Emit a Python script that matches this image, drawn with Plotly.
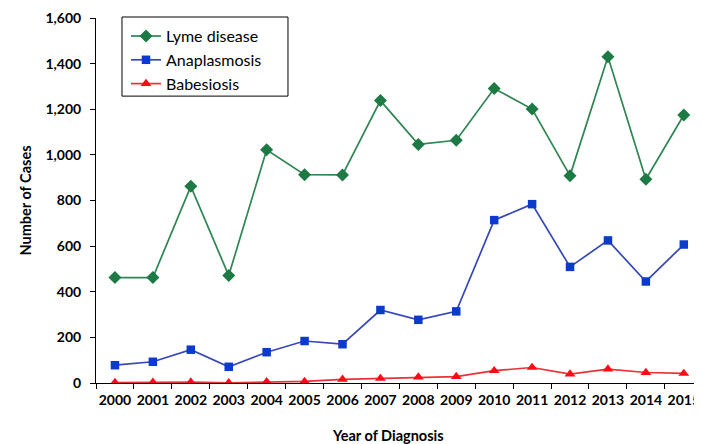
import plotly.graph_objects as go

years = [str(y) for y in range(2000, 2016)]
lyme = [462, 462, 862, 471, 1022, 913, 912, 1238, 1046, 1064, 1291, 1201, 909, 1430, 893, 1175]
anaplasmosis = [78, 93, 146, 71, 135, 184, 170, 320, 277, 314, 714, 784, 509, 625, 445, 607]
babesiosis = [2, 3, 4, 1, 5, 7, 16, 20, 26, 28, 54, 68, 39, 61, 46, 42]
series_names = ["Lyme disease", "Anaplasmosis", "Babesiosis"]

FONT = "Lato"

fig = go.Figure()
fig.add_trace(go.Scatter(x=years, y=lyme, name=series_names[0], mode="lines+markers",
                         line=dict(color="#2f8553", width=1.7),
                         marker=dict(symbol="diamond", size=10, color="#1d7a44")))
fig.add_trace(go.Scatter(x=years, y=anaplasmosis, name=series_names[1], mode="lines+markers",
                         line=dict(color="#3648b8", width=1.7),
                         marker=dict(symbol="square", size=8.5, color="#0b3bcc")))
fig.add_trace(go.Scatter(x=years, y=babesiosis, name=series_names[2], mode="lines+markers",
                         line=dict(color="#ec3038", width=1.7),
                         marker=dict(symbol="triangle-up", size=9.5, color="#ff0a14")))

# the page adds an 8px body margin, so the figure is sized to fit inside the window
fig.update_layout(
    width=694, height=436,
    margin=dict(l=88, r=0, t=10, b=61, autoexpand=False),
    paper_bgcolor="white", plot_bgcolor="white",
    font=dict(family=FONT, color="black"),
    showlegend=True,
    legend=dict(x=0.0495, y=0.997, xanchor="left", yanchor="top",
                borderwidth=0, bgcolor="rgba(0,0,0,0)",
                font=dict(family=FONT, size=16, color="black"),
                itemwidth=30),
    shapes=[dict(type="rect", xref="paper", yref="paper",
                 x0=0.0429, x1=0.3168, y0=0.786, y1=1.0027,
                 line=dict(color="black", width=1), fillcolor="white", layer="below")],
    xaxis=dict(type="category", range=[-0.5, 15.48], tickson="boundaries",
               automargin=False, tickangle=0, ticklabelstandoff=4,
               ticklabeloverflow="allow",
               showline=True, linecolor="black", linewidth=1,
               ticks="outside", ticklen=5, tickcolor="black",
               showgrid=False, zeroline=False,
               tickfont=dict(family=FONT, size=14, color="black", weight="bold")),
    yaxis=dict(range=[0, 1600], dtick=200, tickformat=",d",
               automargin=False, ticklabelstandoff=6,
               ticklabeloverflow="allow",
               showline=True, linecolor="black", linewidth=1,
               ticks="outside", ticklen=5, tickcolor="black",
               showgrid=False, zeroline=False,
               tickfont=dict(family=FONT, size=14, color="black", weight="bold"),
               title=dict(text="Number of Cases", standoff=10,
                          font=dict(family=FONT, size=14.5, color="black", weight="bold"))),
    annotations=[dict(text="Year of Diagnosis", xref="paper", yref="paper",
                      x=0.4818, y=-0.1425, xanchor="center", yanchor="middle",
                      showarrow=False,
                      font=dict(family=FONT, size=14.5, color="black", weight="bold"))],
)

fig.write_html("out.html")
